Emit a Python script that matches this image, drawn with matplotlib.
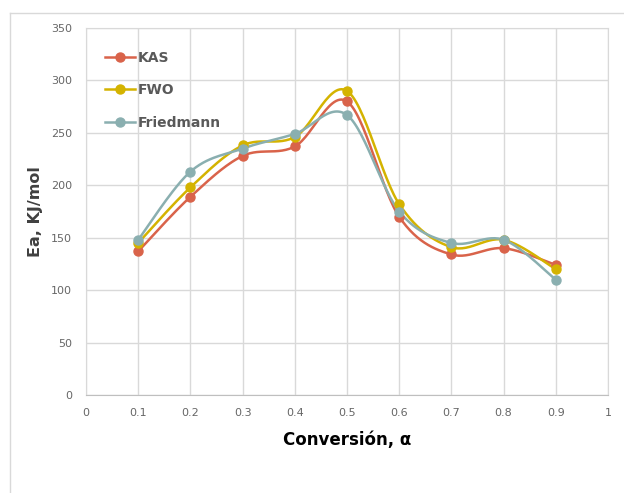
import matplotlib
matplotlib.use('Agg')
import matplotlib.pyplot as plt
from matplotlib.lines import Line2D
import numpy as np

conversion = [0.1, 0.2, 0.3, 0.4, 0.5, 0.6, 0.7, 0.8, 0.9]
kas = [137, 189, 228, 237, 280, 170, 134, 140, 124]
fwo = [145, 198, 238, 246, 290, 182, 141, 148, 120]
friedmann = [148, 213, 235, 249, 267, 175, 145, 148, 110]

series_names = ['KAS', 'FWO', 'Friedmann']
series_colors = ['#D9634A', '#D4B300', '#8AAFB0']

x_ticks = [0, 0.1, 0.2, 0.3, 0.4, 0.5, 0.6, 0.7, 0.8, 0.9, 1]
x_tick_labels = ['0', '0.1', '0.2', '0.3', '0.4', '0.5', '0.6', '0.7', '0.8', '0.9', '1']
y_ticks = [0, 50, 100, 150, 200, 250, 300, 350]


def smooth(xs, ys, n=30):
    # Excel-style smoothed line: cubic bezier between points
    xs = np.asarray(xs, float)
    ys = np.asarray(ys, float)
    pts = np.column_stack([xs, ys])
    out = []
    for i in range(len(pts) - 1):
        p0 = pts[i - 1] if i > 0 else pts[i]
        p1 = pts[i]
        p2 = pts[i + 1]
        p3 = pts[i + 2] if i + 2 < len(pts) else pts[i + 1]
        c1 = p1 + (p2 - p0) / 6.0
        c2 = p2 - (p3 - p1) / 6.0
        t = np.linspace(0, 1, n)[:, None]
        seg = ((1 - t) ** 3) * p1 + 3 * ((1 - t) ** 2) * t * c1 + 3 * (1 - t) * t ** 2 * c2 + t ** 3 * p2
        out.append(seg if i == 0 else seg[1:])
    seg = np.vstack(out)
    return seg[:, 0], seg[:, 1]


fig = plt.figure(figsize=(6.24, 4.93), dpi=100)
ax = fig.add_axes([86 / 624, 98 / 493, 522 / 624, 367 / 493])

# outer chart-area border (top and left visible)
fig.add_artist(Line2D([10 / 624, 1], [1 - 13 / 493, 1 - 13 / 493], transform=fig.transFigure,
                      color='#D9D9D9', lw=1))
fig.add_artist(Line2D([10 / 624, 10 / 624], [0, 1 - 13 / 493], transform=fig.transFigure,
                      color='#D9D9D9', lw=1))

for name, vals, col in zip(series_names, [kas, fwo, friedmann], series_colors):
    sx, sy = smooth(conversion, vals)
    ax.plot(sx, sy, color=col, lw=1.8, zorder=3)
    ax.plot(conversion, vals, 'o', color=col, ms=6.5, zorder=4)

ax.set_xlim(0, 1)
ax.set_ylim(0, 350)
ax.set_xticks(x_ticks)
ax.set_xticklabels(x_tick_labels)
ax.set_yticks(y_ticks)
ax.grid(True, color='#D9D9D9', lw=1)
ax.set_axisbelow(True)
for s in ax.spines.values():
    s.set_color('#D9D9D9')
ax.spines['bottom'].set_color('#BFBFBF')
ax.tick_params(length=0, labelsize=8, colors='#666666', pad=9)
ax.tick_params(axis='y', pad=10)

ax.set_xlabel('Conversión, α', fontsize=12, fontweight='bold', color='black', labelpad=10)
ax.set_ylabel('Ea, KJ/mol', fontsize=11.5, fontweight='bold', color='#404040', labelpad=6)

handles = [Line2D([], [], color=c, lw=1.8, marker='o', ms=6.5) for c in series_colors]
leg = ax.legend(handles, series_names, loc='upper left', bbox_to_anchor=(0.012, 0.972),
                frameon=False, fontsize=10, labelspacing=1.33, handlelength=2.2,
                handletextpad=0.15)
for t in leg.get_texts():
    t.set_color('#595959')
    t.set_fontweight('bold')

fig.savefig('out.png', dpi=100)
plt.close(fig)
